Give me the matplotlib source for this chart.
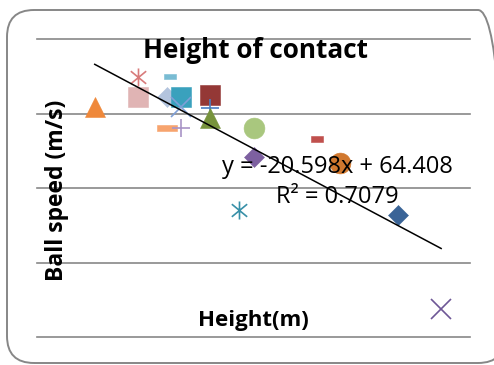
import matplotlib
matplotlib.use("Agg")
import matplotlib.pyplot as plt
from matplotlib.path import Path
from matplotlib.patches import FancyBboxPatch
from matplotlib.transforms import IdentityTransform

# Height of contact (m) and resulting ball speed (m/s)
heights = [1.35, 1.50, 1.50, 1.61, 1.60, 1.65, 1.65, 1.75, 1.75, 1.75,
           1.60, 1.65, 1.90, 2.12, 1.90, 2.20, 1.85, 2.40, 2.55]
speeds = [30.9, 34.9, 32.2, 35.0, 32.2, 32.2, 30.9, 32.5, 30.7, 29.4,
          28.1, 28.1, 28.1, 26.6, 24.2, 23.4, 17.0, 16.4, 3.8]

# Linear trendline coefficients
slope = -20.598
intercept = 64.408
r_squared = 0.7079

title = "Height of contact"
x_title = "Height(m)"
y_title = "Ball speed (m/s)"
y_gridlines = [0, 10, 20, 30, 40]

# Marker shapes
star = Path([(0, -1), (0, 1), (-0.85, -0.7), (0.85, 0.7), (-0.85, 0.7), (0.85, -0.7)],
            [Path.MOVETO, Path.LINETO, Path.MOVETO, Path.LINETO, Path.MOVETO, Path.LINETO])
short_dash = [(-1, -0.45), (1, -0.45), (1, 0.45), (-1, 0.45), (-1, -0.45)]
long_dash = [(-1, -0.27), (1, -0.27), (1, 0.27), (-1, 0.27), (-1, -0.27)]

# (marker, colour, size in pt, filled)
styles = [
    ("^", "#EF883A", 15.0, True),
    (star, "#D87B7B", 13.0, False),
    ("s", "#E0B4B4", 14.4, True),
    (short_dash, "#79BCD3", 8.0, True),
    ("D", "#B3C4DE", 10.2, True),
    ("s", "#3AA1BD", 14.8, True),
    ("x", "#7F9FD6", 14.4, False),
    ("s", "#943836", 14.4, True),
    ("+", "#4A7EC4", 13.4, False),
    ("^", "#77933C", 15.0, True),
    (long_dash, "#F7A46E", 14.4, True),
    ("+", "#A894C6", 13.0, False),
    ("o", "#A9C77E", 15.0, True),
    (short_dash, "#C0504D", 8.6, True),
    ("D", "#7D60A0", 10.2, True),
    ("o", "#D1782E", 15.0, True),
    (star, "#3890A8", 13.0, False),
    ("D", "#3A6497", 10.2, True),
    ("x", "#6E5796", 14.4, False),
]

W, H = 494, 365
fig = plt.figure(figsize=(W / 100, H / 100), dpi=100)
fig.patch.set_facecolor("white")

# Rounded chart border (runs off the right edge)
border = FancyBboxPatch((7, H - 363), 498, 353,
                        boxstyle="round,pad=0,rounding_size=27",
                        transform=IdentityTransform(),
                        facecolor="none", edgecolor="#878787", linewidth=1.4)
fig.add_artist(border)

left, right, top, bottom = 37, 470, 39, 337
ax = fig.add_axes([left / W, (H - bottom) / H, (right - left) / W, (bottom - top) / H])
ax.set_facecolor("none")
for s in ax.spines.values():
    s.set_visible(False)
ax.set_xticks([])
ax.set_yticks([])
ax.set_xlim(1.15, 2.65)
ax.set_ylim(0, 40)

for g in y_gridlines:
    ax.axhline(g, color="#878787", linewidth=1.2, clip_on=False, zorder=1)

for x, y, (m, c, ms, filled) in zip(heights, speeds, styles):
    if filled:
        ax.plot([x], [y], linestyle="none", marker=m, markersize=ms,
                markerfacecolor=c, markeredgecolor=c, markeredgewidth=0.4,
                clip_on=False, zorder=3)
    else:
        ax.plot([x], [y], linestyle="none", marker=m, markersize=ms,
                markerfacecolor="none", markeredgecolor=c, markeredgewidth=1.2,
                clip_on=False, zorder=3)

x0, x1 = min(heights), max(heights)
ax.plot([x0, x1], [slope * x0 + intercept, slope * x1 + intercept],
        color="black", linewidth=1.1, zorder=4, clip_on=False)

font = "Open Sans"
fig.text(255 / W, (H - 58.3) / H, title, ha="center", va="baseline",
         fontsize=18.8, fontweight="bold", family=font)
fig.text(253.5 / W, (H - 325.7) / H, x_title, ha="center", va="baseline",
         fontsize=16, fontweight="bold", family=font)
fig.text(57 / W, (H - 190.7) / H, y_title, ha="center", va="center",
         rotation=90, fontsize=16.5, fontweight="bold", family=font)

eq = f"y = {slope:.3f}x + {intercept:.3f}"
fig.text(337 / W, (H - 173) / H, eq, ha="center", va="baseline",
         fontsize=17, family=font, zorder=5)
fig.text(337 / W, (H - 203) / H, f"R² = {r_squared:.4f}", ha="center", va="baseline",
         fontsize=17, family=font, zorder=5)

fig.savefig("out.png", dpi=100, facecolor="white")
